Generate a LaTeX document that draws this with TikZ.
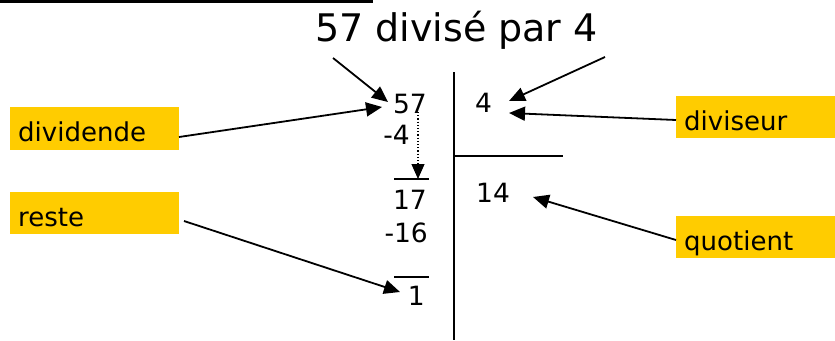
\documentclass[tikz,border=0pt]{standalone}
\usepackage{fontspec}
\setmainfont{DejaVu Sans}
\usetikzlibrary{arrows.meta}
\definecolor{labelyellow}{RGB}{255,204,0}
\begin{document}
\begin{tikzpicture}[x=1pt,y=-1pt,
  num/.style={inner sep=0pt,font=\fontsize{26.5}{28}\selectfont},
  lbl/.style={fill=labelyellow,inner sep=0pt,anchor=north west,text depth=0pt},
  ltxt/.style={anchor=base west,inner sep=0pt,font=\fontsize{26}{28}\selectfont},
  arr/.style={line width=1.8pt,-{Triangle[length=16pt,width=14pt]}},
  rule/.style={line width=1.6pt}]
\useasboundingbox (0,0) rectangle (835,340);
% top heading line
\coordinate (hl1) at (0,1.5);
\coordinate (hl2) at (373,1.5);
\draw[line width=3pt] (hl1) -- (hl2);
% title
\node[inner sep=0pt,anchor=base,font=\fontsize{38}{40}\selectfont] (title) at (456.5,41) {57 divisé par 4};
% label boxes
\node[lbl,minimum width=169pt,minimum height=43pt] (bdiv) at (10,107) {};
\node[ltxt] (tdiv) at (18,141) {dividende};
\node[lbl,minimum width=169pt,minimum height=42pt] (brest) at (10,192) {};
\node[ltxt] (trest) at (18,226) {reste};
\node[lbl,minimum width=160pt,minimum height=42pt] (bdvs) at (676,96) {};
\node[ltxt] (tdvs) at (684,130) {diviseur};
\node[lbl,minimum width=160pt,minimum height=42pt] (bquo) at (676,216) {};
\node[ltxt] (tquo) at (684,250) {quotient};
% numbers
\node[num,anchor=base east] (n57) at (427,113) {57};
\node[num,anchor=base east] (m4) at (410,144) {-4};
\node[num,anchor=base east] (n17) at (427,209) {17};
\node[num,anchor=base east] (m16) at (428,242) {-16};
\node[num,anchor=base east] (n1) at (425,305) {1};
\node[num,anchor=base west] (d4) at (475,112) {4};
\node[num,anchor=base west] (q14) at (476,202) {14};
% division bracket
\coordinate (vt) at (454,72);
\coordinate (vb) at (454,340);
\coordinate (hr) at (563,156);
\coordinate (hm) at (454,156);
\draw[rule] (vt) -- (vb);
\draw[rule] (hm) -- (hr);
% overlines
\coordinate (o1a) at (394,179); \coordinate (o1b) at (429,179);
\coordinate (o2a) at (394,277); \coordinate (o2b) at (429,277);
\draw[line width=1.2pt] (o1a) -- (o1b);
\draw[line width=1.2pt] (o2a) -- (o2b);
% dotted arrow
\coordinate (ds) at (418,112);
\coordinate (de) at (418,179);
\draw[line width=1.2pt,dotted,-{Triangle[length=15pt,width=13pt]}] (ds) -- (de);
% arrows
\coordinate (t1s) at (333,58);  \coordinate (t1e) at (388,102);
\coordinate (t2s) at (605,57);  \coordinate (t2e) at (509,101);
\coordinate (a1s) at (179,137); \coordinate (a1e) at (382,107);
\coordinate (a2s) at (676,120); \coordinate (a2e) at (509,113);
\coordinate (a3s) at (676,240); \coordinate (a3e) at (533,197);
\coordinate (a4s) at (184,221); \coordinate (a4e) at (400,292);
\draw[arr] (t1s) -- (t1e);
\draw[arr] (t2s) -- (t2e);
\draw[arr] (a1s) -- (a1e);
\draw[arr] (a2s) -- (a2e);
\draw[arr] (a3s) -- (a3e);
\draw[arr] (a4s) -- (a4e);
\end{tikzpicture}
\end{document}
